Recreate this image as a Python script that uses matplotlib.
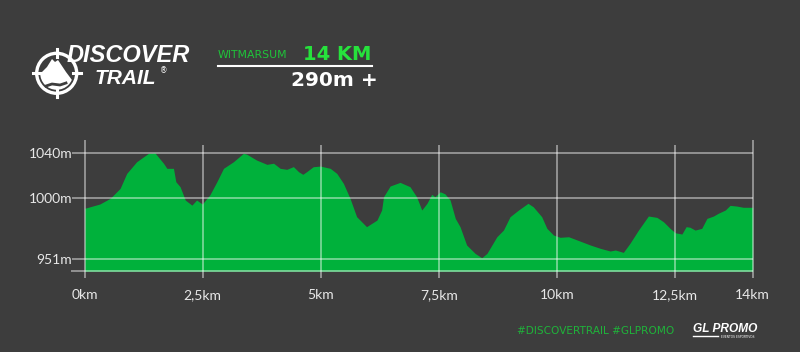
import matplotlib
matplotlib.use("Agg")
import matplotlib.pyplot as plt
from matplotlib.patches import Circle, Polygon
from matplotlib.lines import Line2D

# ---- data ----
km = [0.00, 0.32, 0.54, 0.75, 0.89, 1.10, 1.35, 1.49, 1.67, 1.74, 1.88, 1.93, 2.02,
      2.13, 2.27, 2.37, 2.49, 2.65, 2.80, 2.94, 3.15, 3.36, 3.43, 3.64, 3.86, 4.00,
      4.14, 4.28, 4.42, 4.53, 4.62, 4.70, 4.84, 4.99, 5.20, 5.34, 5.48, 5.62, 5.76,
      5.97, 6.19, 6.29, 6.33, 6.47, 6.68, 6.89, 7.03, 7.14, 7.25, 7.35, 7.42, 7.53,
      7.63, 7.74, 7.85, 7.95, 8.09, 8.27, 8.41, 8.52, 8.73, 8.87, 9.01, 9.19, 9.39,
      9.50, 9.68, 9.79, 9.93, 10.07, 10.25, 10.49, 10.71, 10.92, 11.13, 11.24, 11.41,
      11.55, 11.73, 11.83, 11.94, 12.12, 12.26, 12.40, 12.51, 12.65, 12.74, 12.82,
      12.93, 13.07, 13.18, 13.32, 13.42, 13.57, 13.67, 13.81, 13.95, 14.15]
elev = [991.2, 995.0, 1000.0, 1008.8, 1022.0, 1032.3, 1039.7, 1040.0, 1030.9, 1026.5,
        1026.5, 1014.7, 1010.3, 998.5, 994.0, 998.5, 995.0, 1003.0, 1014.7, 1026.5,
        1032.3, 1039.7, 1039.0, 1033.8, 1030.0, 1031.0, 1026.5, 1025.6, 1028.0, 1023.5,
        1021.2, 1023.5, 1027.9, 1028.5, 1026.5, 1022.0, 1013.2, 1000.0, 983.8, 975.0,
        980.8, 989.7, 1001.4, 1010.9, 1014.1, 1010.3, 1001.4, 989.7, 995.6, 1003.5,
        1001.4, 1005.8, 1004.0, 998.5, 982.3, 975.0, 958.8, 951.4, 947.6, 951.4, 966.1,
        972.0, 983.8, 989.7, 995.6, 992.6, 983.8, 973.5, 967.6, 965.6, 966.1, 962.3,
        958.8, 955.9, 953.5, 954.4, 952.3, 960.3, 972.0, 977.9, 984.4, 983.2, 979.3,
        973.5, 969.6, 968.5, 975.0, 974.5, 972.0, 973.5, 982.3, 984.4, 986.8, 989.7,
        993.8, 993.2, 992.1, 992.1]
x_ticks = [0, 2.5, 5, 7.5, 10, 12.5, 14.15]
x_labels = ["0km", "2,5km", "5km", "7,5km", "10km", "12,5km", "14km"]
y_ticks = [1040, 1000, 946.4]
y_labels = ["1040m", "1000m", "951m"]

BG = "#3d3d3d"
GREEN = "#00b13b"
GRID = (1, 1, 1, 0.55)
W, H = 800, 352
YMIN, YMAX = 935.6, 1051.5

fig = plt.figure(figsize=(8, 3.52), dpi=100, facecolor=BG)

# overlay in pixel coordinates for header decorations
ov = fig.add_axes([0, 0, 1, 1])
ov.set_xlim(0, W)
ov.set_ylim(H, 0)
ov.axis("off")
ov.patch.set_alpha(0)

ax = fig.add_axes([84.7 / W, 1 - 271.3 / H, (752.7 - 84.7) / W, (271.3 - 140) / H])
ax.set_facecolor("none")
ax.set_xlim(0, x_ticks[-1])
ax.set_ylim(YMIN, YMAX)
ax.fill_between(km, elev, YMIN, color=GREEN, lw=0, zorder=1)
for s in ax.spines.values():
    s.set_visible(False)

for y in y_ticks:
    ax.hlines(y, -0.27, x_ticks[-1], colors=[GRID], lw=1.1, clip_on=False, zorder=3)
ax.hlines(YMIN, -0.3, x_ticks[-1], colors=[GRID], lw=1.1, clip_on=False, zorder=3)
for i, x in enumerate(x_ticks):
    top = YMAX if i in (0, len(x_ticks) - 1) else 1047
    ax.vlines(x, 929.7, top, colors=[GRID], lw=1.1, clip_on=False, zorder=3)

ax.set_xticks(x_ticks, x_labels)
ax.set_yticks(y_ticks, y_labels)
ax.tick_params(axis="both", length=0, colors="#e8e8e8", labelsize=10)
ax.tick_params(axis="x", pad=13)
ax.tick_params(axis="y", pad=9)
for lab in ax.get_xticklabels() + ax.get_yticklabels():
    lab.set_family("Lato")

# ---- logo ----
cx, cy, r = 56.7, 73.3, 20
ov.add_patch(Circle((cx, cy), r, fill=False, ec="white", lw=2.4))
for dx, dy in [(0, -1), (0, 1), (-1, 0), (1, 0)]:
    ov.add_line(Line2D([cx + dx * (r - 4), cx + dx * (r + 4)],
                       [cy + dy * (r - 4), cy + dy * (r + 4)], color="white", lw=2.2))
inner = Circle((cx, cy), r - 3.5, transform=ov.transData)
mount = Polygon([(36, 80), (42, 72), (47, 67), (52, 59), (55, 62), (58, 60), (62, 66),
                 (66, 72), (72, 80), (78, 92), (36, 92)], closed=True, fc="white", ec="none")
ov.add_patch(mount)
mount.set_clip_path(inner)
ov.add_line(Line2D([46, 52, 60, 66], [86, 84, 85, 83], color=BG, lw=2.0))
ov.text(67, 62, "DISCOVER", color="white", fontsize=17, fontweight="bold",
        fontstyle="italic", family="Liberation Sans", ha="left", va="baseline")
ov.text(95, 83.5, "TRAIL", color="white", fontsize=15, fontweight="bold",
        fontstyle="italic", family="Liberation Sans", ha="left", va="baseline")
ov.text(160, 73, "®", color="white", fontsize=5.5, ha="left", va="baseline")

# ---- header ----
ov.text(218, 58, "WITMARSUM", color="#1fc43a", fontsize=7.8, ha="left", va="baseline",
        family="DejaVu Sans")
ov.text(371, 60, "14 KM", color="#26e23c", fontsize=14, fontweight="bold",
        ha="right", va="baseline", family="DejaVu Sans")
ov.add_line(Line2D([218, 372], [65.5, 65.5], color="white", lw=1.5))
ov.text(378, 85.5, "290m +", color="white", fontsize=14.5, fontweight="bold",
        ha="right", va="baseline", family="DejaVu Sans")

# ---- footer ----
ov.text(517, 334, "#DISCOVERTRAIL #GLPROMO", color="#1fb33a", fontsize=7.6,
        ha="left", va="baseline", family="DejaVu Sans")
ov.text(693, 332, "GL PROMO", color="white", fontsize=8.6, fontweight="bold",
        fontstyle="italic", family="Liberation Sans", ha="left", va="baseline")
ov.add_line(Line2D([693, 718], [336, 336], color="white", lw=1.0))
ov.text(721, 335.2, "EVENTOS ESPORTIVOS", color="white", fontsize=2.2,
        ha="left", va="top")

fig.savefig("out.png", dpi=100, facecolor=BG)
